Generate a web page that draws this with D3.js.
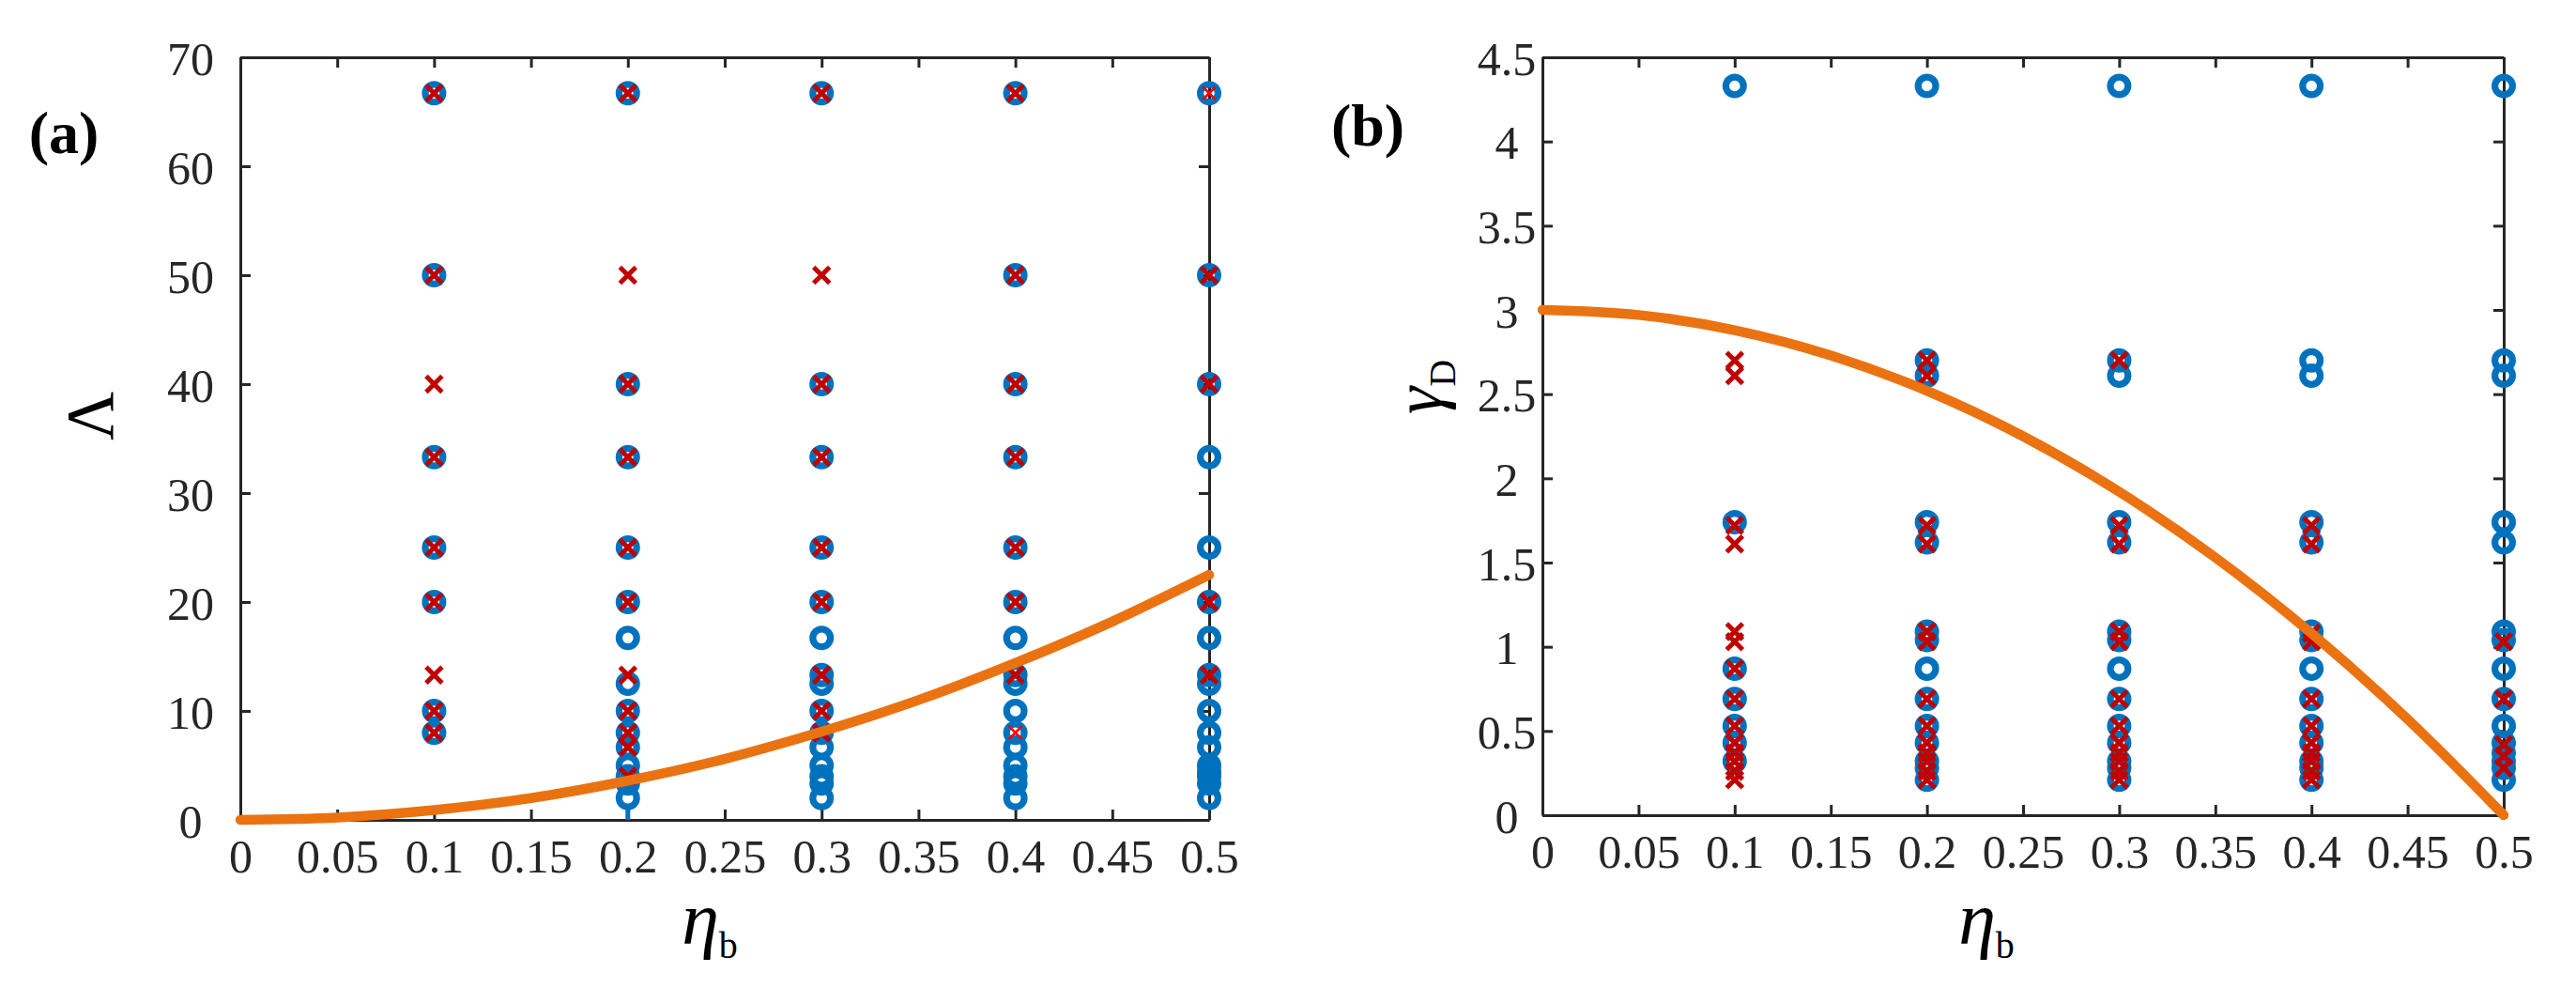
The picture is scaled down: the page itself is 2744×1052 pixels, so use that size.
<!DOCTYPE html>
<html>
<head>
<meta charset="utf-8">
<script src="https://cdn.jsdelivr.net/npm/d3@7"></script>
<style>
  body { margin: 0; background: #fff; }
  svg { display: block; }
  text { font-family: "Liberation Serif", "Times New Roman", serif; }
</style>
</head>
<body>
<svg id="chart"></svg>
<script>
const WIDTH = 2744
const HEIGHT = 1052
const SVG = d3.select('#chart').attr('width', WIDTH).attr('height', HEIGHT)

const SERIF = '"Liberation Serif", "Times New Roman", serif'
const BLUE = '#0072BD'
const DARKRED = '#C00000'
const RED = '#FF0000'
const ORANGE = '#EB7211'
const AXIS = '#262626'

// x values shared by both panels
const ETA_COLS = [0.1, 0.2, 0.3, 0.4, 0.5]
const ETA_TICKS = [0, 0.05, 0.1, 0.15, 0.2, 0.25, 0.3, 0.35, 0.4, 0.45, 0.5]
const ETA_TICK_LABELS = ['0', '0.05', '0.1', '0.15', '0.2', '0.25', '0.3', '0.35', '0.4', '0.45', '0.5']
const CURVE_ETA = [0, 0.05, 0.1, 0.15, 0.2, 0.25, 0.3, 0.35, 0.4, 0.45, 0.5]

// (a) Lambda -- one list per eta column
const LAMBDA_TICKS = [0, 10, 20, 30, 40, 50, 60, 70]
const lambdaCircles = [
  [66.7, 50, 33.3, 25, 20, 10, 8],
  [66.7, 40, 33.3, 25, 20, 16.7, 12.5, 10, 8, 6.67, 5, 4, 3.33, 2],
  [66.7, 40, 33.3, 25, 20, 16.7, 13.3, 12.5, 10, 8, 6.67, 5, 4, 3.33, 2],
  [66.7, 50, 40, 33.3, 25, 20, 16.7, 13.3, 12.5, 10, 8, 6.67, 5, 4, 3.33, 2],
  [66.7, 50, 40, 33.3, 25, 20, 16.7, 13.3, 12.5, 10, 8, 6.67, 5, 4.4, 4, 3.33, 2]
]
const lambdaCrosses = [
  [66.7, 50, 40, 33.3, 25, 20, 13.3, 10, 8],
  [66.7, 50, 40, 33.3, 25, 20, 13.3, 10, 8, 6.67, 4],
  [66.7, 50, 40, 33.3, 25, 20, 13.3, 10, 8],
  [66.7, 50, 40, 33.3, 25, 20, 13.3],
  [50, 40, 20, 13.3]
]
const lambdaThinCrosses = [[], [], [], [8], [66.7]]
const lambdaStems = [{ eta: 0.2, from: 0, to: 1.3 }]
const lambdaCurve = [0, 0.22, 0.9, 2.0, 3.6, 5.6, 8.1, 11.0, 14.4, 18.2, 22.5]

// (b) gamma_D
const GAMMA_TICKS = [0, 0.5, 1, 1.5, 2, 2.5, 3, 3.5, 4, 4.5]
const GAMMA_TICK_LABELS = ['0', '0.5', '1', '1.5', '2', '2.5', '3', '3.5', '4', '4.5']
const gammaCircles = [
  [4.33, 1.74, 0.87, 0.69, 0.53, 0.43, 0.32],
  [4.33, 2.70, 2.61, 1.74, 1.62, 1.09, 1.04, 0.87, 0.69, 0.53, 0.43, 0.32, 0.28, 0.21],
  [4.33, 2.70, 2.61, 1.74, 1.62, 1.09, 1.04, 0.87, 0.69, 0.53, 0.43, 0.32, 0.28, 0.21],
  [4.33, 2.70, 2.61, 1.74, 1.62, 1.09, 1.04, 0.87, 0.69, 0.53, 0.43, 0.32, 0.28, 0.21],
  [4.33, 2.70, 2.61, 1.74, 1.62, 1.09, 1.04, 0.87, 0.69, 0.53, 0.43, 0.37, 0.32, 0.28, 0.21]
]
const gammaCrosses = [
  [2.70, 2.61, 1.72, 1.61, 1.09, 1.03, 0.87, 0.69, 0.53, 0.43, 0.37, 0.32, 0.26, 0.21],
  [2.70, 2.61, 1.72, 1.61, 1.09, 1.03, 0.69, 0.53, 0.43, 0.37, 0.32, 0.26, 0.21],
  [2.70, 1.72, 1.61, 1.09, 1.03, 0.69, 0.53, 0.43, 0.37, 0.32, 0.26, 0.21],
  [1.72, 1.61, 1.08, 1.03, 0.69, 0.53, 0.43, 0.37, 0.32, 0.26, 0.21],
  [1.03, 0.69, 0.42, 0.35, 0.28]
]
const gammaThinCrosses = [[], [], [], [], []]
const gammaStems = []
const gammaCurve = [3.0, 2.97, 2.88, 2.73, 2.52, 2.25, 1.92, 1.53, 1.08, 0.57, 0]

// column lists -> points
function flatten (cols) {
  return ETA_COLS.flatMap((eta, i) => cols[i].map(v => ({ eta: eta, v: v })))
}

function crossPath (s) {
  return `M${-s},${-s}L${s},${s}M${-s},${s}L${s},${-s}`
}

function drawPanel (p) {
  const x = d3.scaleLinear().domain([0, 0.5]).range([p.x0, p.x1])
  const y = d3.scaleLinear().domain([0, p.ymax]).range([p.bottom, p.top])
  const g = SVG.append('g')

  // box + inward ticks on all sides
  g.append('g').attr('transform', `translate(0,${p.bottom})`)
    .call(d3.axisBottom(x).tickValues(ETA_TICKS).tickFormat((d, i) => ETA_TICK_LABELS[i])
      .tickSizeInner(-11).tickSizeOuter(0).tickPadding(20))
  const yl = g.append('g').attr('transform', `translate(${p.x0},0)`)
    .call(d3.axisLeft(y).tickValues(p.yTicks).tickFormat((d, i) => p.yLabels[i])
      .tickSizeInner(-11).tickSizeOuter(0).tickPadding(p.yPad))
  g.append('g').attr('transform', `translate(0,${p.top})`)
    .call(d3.axisTop(x).tickValues(ETA_TICKS).tickFormat('').tickSizeInner(-11).tickSizeOuter(0))
  g.append('g').attr('transform', `translate(${p.x1},0)`)
    .call(d3.axisRight(y).tickValues(p.yTicks).tickFormat('').tickSizeInner(-11).tickSizeOuter(0))

  g.selectAll('g').attr('color', AXIS).attr('font-size', 50)
  g.selectAll('g text').attr('font-family', SERIF).style('font-family', SERIF)
  g.selectAll('path.domain, .tick line').attr('stroke-width', 3)
  yl.attr('text-anchor', 'middle')
  yl.selectAll('text').attr('dy', '0.36em')

  // stems
  g.selectAll('.stem').data(p.stems).join('line')
    .attr('x1', d => x(d.eta)).attr('x2', d => x(d.eta))
    .attr('y1', d => y(d.from)).attr('y2', d => y(d.to))
    .attr('stroke', BLUE).attr('stroke-width', 5)

  // blue circles
  g.selectAll('.circ').data(flatten(p.circles)).join('circle')
    .attr('cx', d => x(d.eta)).attr('cy', d => y(d.v))
    .attr('r', 9.4).attr('fill', 'none')
    .attr('stroke', BLUE).attr('stroke-width', 7.2)

  // dark red crosses
  g.selectAll('.cross').data(flatten(p.crosses)).join('path')
    .attr('transform', d => `translate(${x(d.eta)},${y(d.v)})`)
    .attr('d', crossPath(8.5)).attr('fill', 'none')
    .attr('stroke', DARKRED).attr('stroke-width', 5)

  // thin bright red crosses
  g.selectAll('.thin').data(flatten(p.thin)).join('path')
    .attr('transform', d => `translate(${x(d.eta)},${y(d.v)})`)
    .attr('d', crossPath(7)).attr('fill', 'none')
    .attr('stroke', RED).attr('stroke-width', 2.6)

  // orange boundary curve
  const line = d3.line()
    .x((d, i) => x(CURVE_ETA[i]))
    .y(d => y(d))
    .curve(d3.curveMonotoneX)
  g.append('path').datum(p.curve).attr('d', line)
    .attr('fill', 'none').attr('stroke', ORANGE)
    .attr('stroke-width', 10.5).attr('stroke-linecap', 'round')

  // panel tag
  g.append('text').attr('x', p.tagX).attr('y', p.tagY)
    .attr('text-anchor', 'middle')
    .attr('font-weight', 'bold').attr('font-size', 64).text(p.tag)

  // x label eta_b
  const xl = g.append('text').attr('x', p.xLabelX).attr('y', 1005)
    .attr('text-anchor', 'middle').attr('fill', '#000')
  xl.append('tspan').attr('font-style', 'italic').attr('font-size', 80).text('η')
  xl.append('tspan').attr('font-size', 40).attr('dy', 15).text('b')
  return g
}

const panelA = drawPanel({
  x0: 256, x1: 1288, top: 61, bottom: 873, ymax: 70,
  yTicks: LAMBDA_TICKS, yLabels: LAMBDA_TICKS.map(String), yPad: 53,
  circles: lambdaCircles, crosses: lambdaCrosses, thin: lambdaThinCrosses,
  stems: lambdaStems, curve: lambdaCurve,
  tag: '(a)', tagX: 68, tagY: 163, xLabelX: 756
})
panelA.append('text')
  .attr('transform', 'translate(120,443) rotate(-90)')
  .attr('text-anchor', 'middle')
  .attr('font-size', 72).text('Λ')

const panelB = drawPanel({
  x0: 1643, x1: 2667, top: 61, bottom: 868, ymax: 4.5,
  yTicks: GAMMA_TICKS, yLabels: GAMMA_TICK_LABELS, yPad: 38,
  circles: gammaCircles, crosses: gammaCrosses, thin: gammaThinCrosses,
  stems: gammaStems, curve: gammaCurve,
  tag: '(b)', tagX: 1457, tagY: 155, xLabelX: 2116
})
const gl = panelB.append('text')
  .attr('transform', 'translate(1535,412) rotate(-90)')
  .attr('text-anchor', 'middle')
gl.append('tspan').attr('font-style', 'italic').attr('font-size', 74).text('γ')
gl.append('tspan').attr('font-size', 40).attr('dy', 15).text('D')
</script>
</body>
</html>
